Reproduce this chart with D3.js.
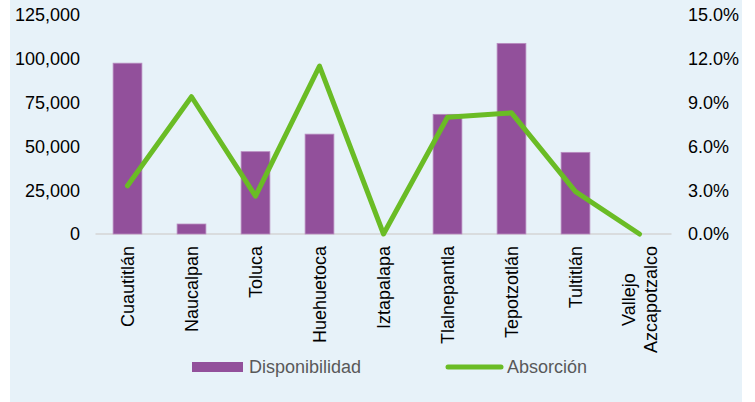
<!DOCTYPE html>
<html><head><meta charset="utf-8">
<script src="https://cdn.jsdelivr.net/npm/d3@7/dist/d3.min.js"></script>
<style>body{margin:0;background:#fff}svg{display:block}text{font-family:"Liberation Sans",Arial,sans-serif}</style>
</head><body><svg id="c" width="755" height="402"></svg>
<script>
const categories = ["Cuautitlán","Naucalpan","Toluca","Huehuetoca","Iztapalapa","Tlalnepantla","Tepotzotlán","Tultitlán","Vallejo Azcapotzalco"];
const disponibilidad = [97500, 5700, 47000, 57000, 0, 68300, 108800, 46600, 0];
const absorcion = [0.033, 0.094, 0.026, 0.115, 0.0, 0.080, 0.083, 0.029, 0.0];
const leftTicks = [0, 25000, 50000, 75000, 100000, 125000];
const rightTicks = [0, 0.03, 0.06, 0.09, 0.12, 0.15];

const svg = d3.select("#c");
svg.append("rect").attr("x",10).attr("y",0).attr("width",732).attr("height",402).attr("fill","#e7f2f9");

const x = d3.scaleBand().domain(categories).range([95.5, 671.5]).paddingInner(0.55).paddingOuter(0.275);
const yL = d3.scaleLinear().domain([0,125000]).range([234,15]);
const yR = d3.scaleLinear().domain([0,0.15]).range([234,15]);
const FS = 18;

// left axis
const fmt = d3.format(",");
svg.append("g").selectAll("text").data(leftTicks).join("text")
  .attr("x",80).attr("y",d=>yL(d)).attr("dy","0.35em").attr("text-anchor","end")
  .attr("font-size",FS).attr("fill","#000").text(d=>fmt(d));
// right axis
const pf = d3.format(".1%");
svg.append("g").selectAll("text").data(rightTicks).join("text")
  .attr("x",688).attr("y",d=>yR(d)).attr("dy","0.35em").attr("text-anchor","start")
  .attr("font-size",FS).attr("fill","#000").text(d=>pf(d));

// baseline
svg.append("line").attr("x1",95.5).attr("x2",671.5).attr("y1",yL(0)).attr("y2",yL(0))
  .attr("stroke","#d4d4d4").attr("stroke-width",1.3);

// bars
svg.append("g").selectAll("rect").data(categories).join("rect")
  .attr("x",d=>x(d)).attr("width",x.bandwidth())
  .attr("y",(d,i)=>yL(disponibilidad[i])).attr("height",(d,i)=>yL(0)-yL(disponibilidad[i]))
  .attr("fill","#92509b").attr("stroke","#b98dc0").attr("stroke-width",0.8);

// line
const line = d3.line().x((d,i)=>x(categories[i])+x.bandwidth()/2).y(d=>yR(d));
svg.append("path").datum(absorcion).attr("d",line).attr("fill","none")
  .attr("stroke","#6abc25").attr("stroke-width",5).attr("stroke-linejoin","round").attr("stroke-linecap","round");

// category labels
const cg = svg.append("g");
categories.forEach((c,i)=>{
  const cx = x(c)+x.bandwidth()/2;
  const parts = c==="Vallejo Azcapotzalco" ? ["Vallejo","Azcapotzalco"] : [c];
  const n = parts.length;
  if (n===1) {
    cg.append("text").attr("transform",`translate(${cx},246) rotate(-90)`)
      .attr("text-anchor","end").attr("dy","0.35em").attr("font-size",FS).attr("fill","#000").text(c);
  } else {
    // multi-line: centered lines, block top-aligned
    const t = cg.append("text").attr("font-size",FS).attr("fill","#000").attr("text-anchor","middle");
    parts.forEach((p,j)=>{
      t.append("tspan").attr("x",0).attr("y",(j-(n-1)/2)*22).attr("dy","0.35em").text(p);
    });
    const w = d3.max(t.selectAll("tspan").nodes(), s=>s.getComputedTextLength());
    t.attr("transform",`translate(${cx},${246 + w/2}) rotate(-90)`);
  }
});

// legend
svg.append("rect").attr("x",192).attr("y",362).attr("width",51).attr("height",10).attr("fill","#92509b");
svg.append("text").attr("x",249).attr("y",367).attr("dy","0.35em").attr("font-size",FS).attr("fill","#595959").text("Disponibilidad");
svg.append("line").attr("x1",448).attr("x2",501).attr("y1",367).attr("y2",367)
  .attr("stroke","#6abc25").attr("stroke-width",5).attr("stroke-linecap","round");
svg.append("text").attr("x",507).attr("y",367).attr("dy","0.35em").attr("font-size",FS).attr("fill","#595959").text("Absorción");
</script></body></html>
